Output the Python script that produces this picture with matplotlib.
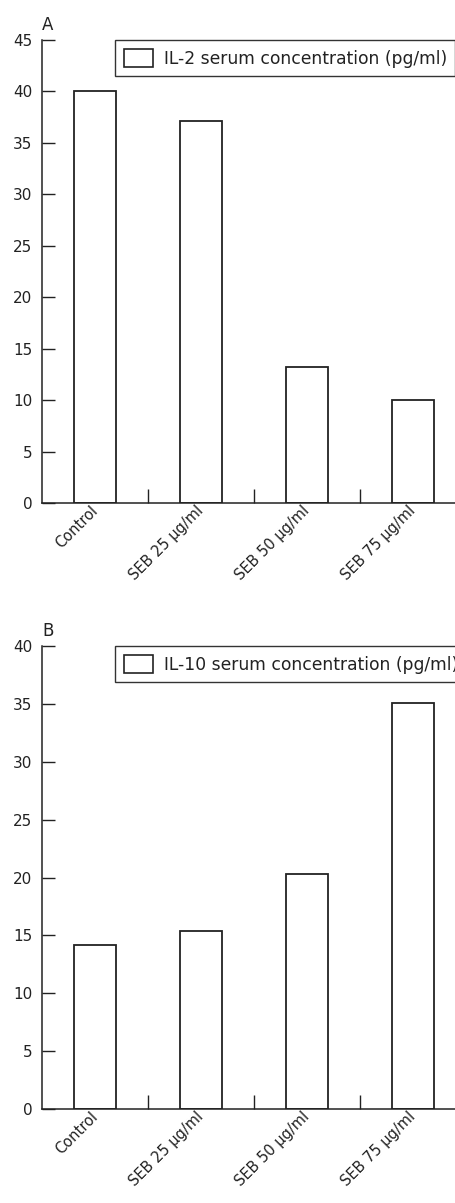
import matplotlib
matplotlib.use("Agg")
import matplotlib.pyplot as plt
import matplotlib.transforms as mtransforms
from matplotlib.patches import Patch
from matplotlib.ticker import FixedLocator

categories = ["Control", "SEB 25 µg/ml", "SEB 50 µg/ml", "SEB 75 µg/ml"]
il2_values = [40.0, 37.1, 13.2, 10.0]
il10_values = [14.2, 15.4, 20.3, 35.1]
il2_label = "IL-2 serum concentration (pg/ml)"
il10_label = "IL-10 serum concentration (pg/ml)"
il2_yticks = [0, 5, 10, 15, 20, 25, 30, 35, 40, 45]
il10_yticks = [0, 5, 10, 15, 20, 25, 30, 35, 40]

plt.rcParams['font.family'] = ['DejaVu Sans']
W, H = 456, 1203
fig = plt.figure(figsize=(W / 100, H / 100), dpi=100)

INK = "#222222"

def make_panel(rect, values, label, yticks, letter):
    ax = fig.add_axes(rect)
    x = list(range(len(categories)))
    ax.bar(x, values, width=0.39, facecolor="white", edgecolor=INK, linewidth=1.3)
    ax.set_xlim(-0.5, len(categories) - 0.5)
    ax.set_ylim(0, max(yticks))
    ax.set_yticks(yticks)
    ax.set_xticks(x)
    ax.set_xticklabels(categories, rotation=45, ha="right", va="center",
                       rotation_mode="anchor", fontsize=10.5, color=INK)
    offset = mtransforms.ScaledTranslation(11 / 100, -10 / 100, fig.dpi_scale_trans)
    for lbl in ax.get_xticklabels():
        lbl.set_transform(lbl.get_transform() + offset)
    ax.xaxis.set_minor_locator(FixedLocator([i + 0.5 for i in range(len(categories) - 1)]))
    ax.tick_params(axis="x", which="major", length=0, pad=4)
    ax.tick_params(axis="x", which="minor", direction="in", length=10, width=1.0, color=INK)
    ax.tick_params(axis="y", direction="in", length=9.5, width=1.0, color=INK,
                   labelsize=11, labelcolor=INK, pad=7)
    for s in ("top", "right"):
        ax.spines[s].set_visible(False)
    for s in ("left", "bottom"):
        ax.spines[s].set_color(INK)
        ax.spines[s].set_linewidth(1.1)
    handle = Patch(facecolor="white", edgecolor=INK, linewidth=1.2)
    leg = ax.legend([handle], [label], loc="upper left",
                    bbox_to_anchor=(73 / 424, 1.0), borderaxespad=0,
                    fancybox=False, framealpha=1, edgecolor="#333333",
                    fontsize=12.3, handlelength=1.75, handleheight=1.3,
                    handletextpad=0.6, borderpad=0.5)
    leg.get_frame().set_linewidth(1.0)
    for t in leg.get_texts():
        t.set_color(INK)
    ax.text(0.0, 1.014, letter, transform=ax.transAxes, ha="left", va="bottom",
            fontsize=12, color=INK)
    return ax

axw = 424 / W
left = 42 / W
make_panel([left, 1 - 503 / H, axw, (503 - 40) / H], il2_values, il2_label, il2_yticks, "A")
make_panel([left, 1 - 1109 / H, axw, (1109 - 646) / H], il10_values, il10_label, il10_yticks, "B")

fig.savefig("out.png", dpi=100)
